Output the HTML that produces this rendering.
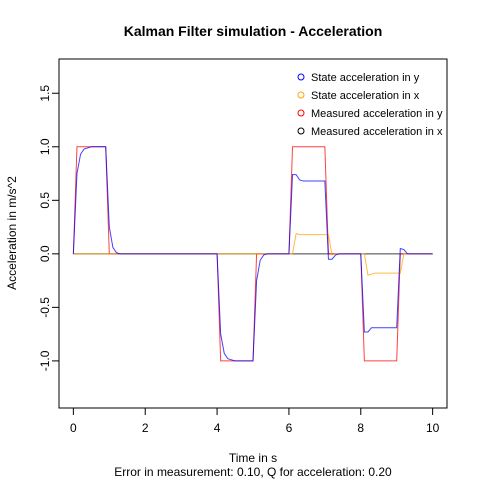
<!DOCTYPE html>
<html><head><meta charset="utf-8"><style>body{margin:0;background:#fff}svg{font-family:"Liberation Sans",Arial,sans-serif}</style></head>
<body>
<svg width="480" height="480" id="c">
<text x="253" y="36" text-anchor="middle" font-weight="bold" font-size="14">Kalman Filter simulation - Acceleration</text>
<text x="253" y="462" text-anchor="middle" font-size="12">Time in s</text>
<text x="253" y="476" text-anchor="middle" font-size="12">Error in measurement: 0.10, Q for acceleration: 0.20</text>
<text transform="translate(16,233) rotate(-90)" text-anchor="middle" font-size="12">Acceleration in m/s^2</text>
<rect x="59" y="59" width="388" height="349" fill="none" stroke="#000"/>
<g id="ax"></g><g id="series"></g>
<g font-size="11">
<circle cx="301" cy="77" r="3" fill="none" stroke="#0000ff"/><text x="311" y="81">State acceleration in y</text>
<circle cx="301" cy="95" r="3" fill="none" stroke="orange"/><text x="311" y="99">State acceleration in x</text>
<circle cx="301" cy="113" r="3" fill="none" stroke="red"/><text x="311" y="117">Measured acceleration in y</text>
<circle cx="301" cy="131" r="3" fill="none" stroke="#000"/><text x="311" y="135">Measured acceleration in x</text>
</g>
</svg>
<script>
const xTicks=[0,2,4,6,8,10];
const yTicks=[-1.0,-0.5,0.0,0.5,1.0,1.5];
const yTickLabels=["-1.0","-0.5","0.0","0.5","1.0","1.5"];
// values at t = 0.0, 0.1, ..., 10.0
const measY=[0,1,1,1,1,1,1,1,1,1,0, 0,0,0,0,0,0,0,0,0, 0,0,0,0,0,0,0,0,0,0, 0,0,0,0,0,0,0,0,0,0,
 0,-1,-1,-1,-1,-1,-1,-1,-1,-1,-1, 0,0,0,0,0,0,0,0,0, 0,1,1,1,1,1,1,1,1,1,1, 0,0,0,0,0,0,0,0,0,
 0,-1,-1,-1,-1,-1,-1,-1,-1,-1,-1, 0,0,0,0,0,0,0,0,0,0];
const stateY=[0,0.75,0.93,0.98,0.99,1,1,1,1,1,0.25, 0.06,0.01,0,0,0,0,0,0,0, 0,0,0,0,0,0,0,0,0,0, 0,0,0,0,0,0,0,0,0,0,
 0,-0.75,-0.93,-0.98,-0.99,-1,-1,-1,-1,-1,-1, -0.25,-0.06,-0.01,0,0,0,0,0,0, 0,0.74,0.74,0.69,0.68,0.68,0.68,0.68,0.68,0.68,0.68, -0.05,-0.05,-0.01,0,0,0,0,0,0,
 0,-0.73,-0.73,-0.69,-0.69,-0.69,-0.69,-0.69,-0.69,-0.69,-0.69, 0.05,0.04,0,0,0,0,0,0,0,0];
const stateX=[0,0,0,0,0,0,0,0,0,0,0, 0,0,0,0,0,0,0,0,0, 0,0,0,0,0,0,0,0,0,0, 0,0,0,0,0,0,0,0,0,0,
 0,0,0,0,0,0,0,0,0,0,0, 0,0,0,0,0,0,0,0,0, 0,0,0.19,0.18,0.18,0.18,0.18,0.18,0.18,0.18,0.18, 0.18,-0.01,0,0,0,0,0,0,0,
 0,0,-0.2,-0.19,-0.18,-0.18,-0.18,-0.18,-0.18,-0.18,-0.18, -0.18,0,0,0,0,0,0,0,0,0];
const measX=new Array(101).fill(0);
const NS="http://www.w3.org/2000/svg";
const X=v=>59+(v+0.4)/10.8*388, Y=v=>59+(1.82-v)/3.26*349;
function mk(t,a,p){const e=document.createElementNS(NS,t);for(const k in a)e.setAttribute(k,a[k]);p.appendChild(e);return e;}
const ax=document.getElementById('ax');
xTicks.forEach(v=>{const l=mk('line',{x1:X(v),x2:X(v),y1:408,y2:415,stroke:'#000'},ax);


const t=mk('text',{x:X(v),y:432,'text-anchor':'middle','font-size':12},ax);t.textContent=v;

});
yTicks.forEach((v,i)=>{const l=mk('line',{x1:52,x2:59,y1:Y(v),y2:Y(v),stroke:'#000'},ax);


const t=mk('text',{transform:`translate(49,${Y(v)}) rotate(-90)`,'text-anchor':'middle','font-size':12},ax);t.textContent=yTickLabels[i];

});
const sg=document.getElementById('series');
[[measX,'#000','measured-x-line'],[measY,'#ff0000','measured-y-line'],[stateX,'orange','state-x-line'],[stateY,'#0000ff','state-y-line']].forEach(([d,c,n])=>{
const p=mk('polyline',{points:d.map((v,i)=>X(i/10)+','+Y(v)).join(' '),fill:'none',stroke:c,'stroke-width':1,opacity:0.75},sg);

});
</script>
</body></html>
